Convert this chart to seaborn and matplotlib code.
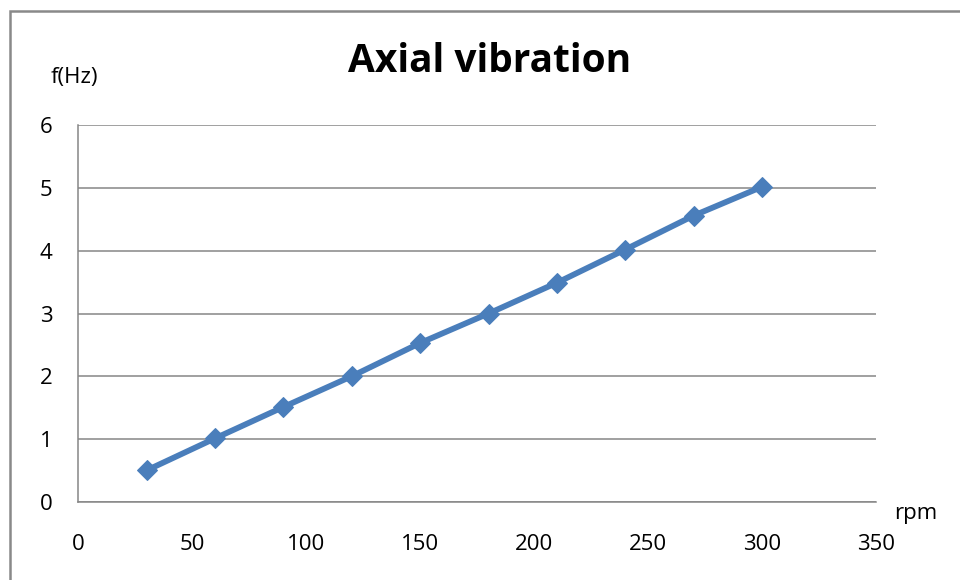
import matplotlib
matplotlib.use("Agg")
import matplotlib.pyplot as plt
import seaborn as sns
import pandas as pd
from matplotlib.patches import Rectangle

rpm = [30, 60, 90, 120, 150, 180, 210, 240, 270, 300]
freq_hz = [0.5, 1.01, 1.51, 2.0, 2.53, 3.0, 3.49, 4.02, 4.56, 5.02]
x_ticks = [0, 50, 100, 150, 200, 250, 300, 350]
y_ticks = [0, 1, 2, 3, 4, 5, 6]
title = "Axial vibration"
x_label = "rpm"
y_label = "f(Hz)"

sns.set_theme(style="white")
plt.rcParams['font.family'] = ['Open Sans', 'DejaVu Sans']

W, H = 960, 580
fig = plt.figure(figsize=(9.6, 5.8), dpi=100)
ax = fig.add_axes([78.3 / W, 1 - 501.7 / H, (876 - 78.3) / W, (501.7 - 125.3) / H])

df = pd.DataFrame({"rpm": rpm, "f": freq_hz})
line_color = "#4A7EBB"
sns.lineplot(data=df, x="rpm", y="f", ax=ax, color=line_color, linewidth=4.2,
             marker="D", markersize=10.5, markeredgecolor=line_color,
             markerfacecolor=line_color, clip_on=False, zorder=3)

grid_color = "#868686"
ax.set_xlim(0, 350)
ax.set_ylim(0, 6)
ax.set_xticks(x_ticks)
ax.set_yticks(y_ticks)
ax.set_xticklabels([str(v) for v in x_ticks])
ax.set_yticklabels([str(v) for v in y_ticks])
ax.yaxis.grid(True, color=grid_color, linewidth=1.1)
ax.xaxis.grid(False)
ax.set_axisbelow(True)
for s in ["top", "right"]:
    ax.spines[s].set_visible(False)
for s in ["left", "bottom"]:
    ax.spines[s].set_color(grid_color)
    ax.spines[s].set_linewidth(1.1)
ax.tick_params(axis="both", which="major", direction="out", length=6, width=1.1,
               color=grid_color, labelsize=16, labelcolor="black")
ax.tick_params(axis="y", pad=12.5)
ax.tick_params(axis="x", pad=17)
ax.set_xlabel("")
ax.set_ylabel("")

fig.text(490 / W, 1 - 62 / H, title, ha="center", va="center",
         fontsize=28, fontweight="bold", color="black")
fig.text(74 / W, 1 - 77 / H, y_label, ha="center", va="center", fontsize=16, color="black")
fig.text(916 / W, 1 - 513 / H, x_label, ha="center", va="center", fontsize=16, color="black")

fig.add_artist(Rectangle((10 / W, -0.2), 1.5, 1.2 - 11 / H,
                         transform=fig.transFigure, fill=False,
                         edgecolor="#898989", linewidth=1.8))

fig.savefig("out.png", dpi=100)
